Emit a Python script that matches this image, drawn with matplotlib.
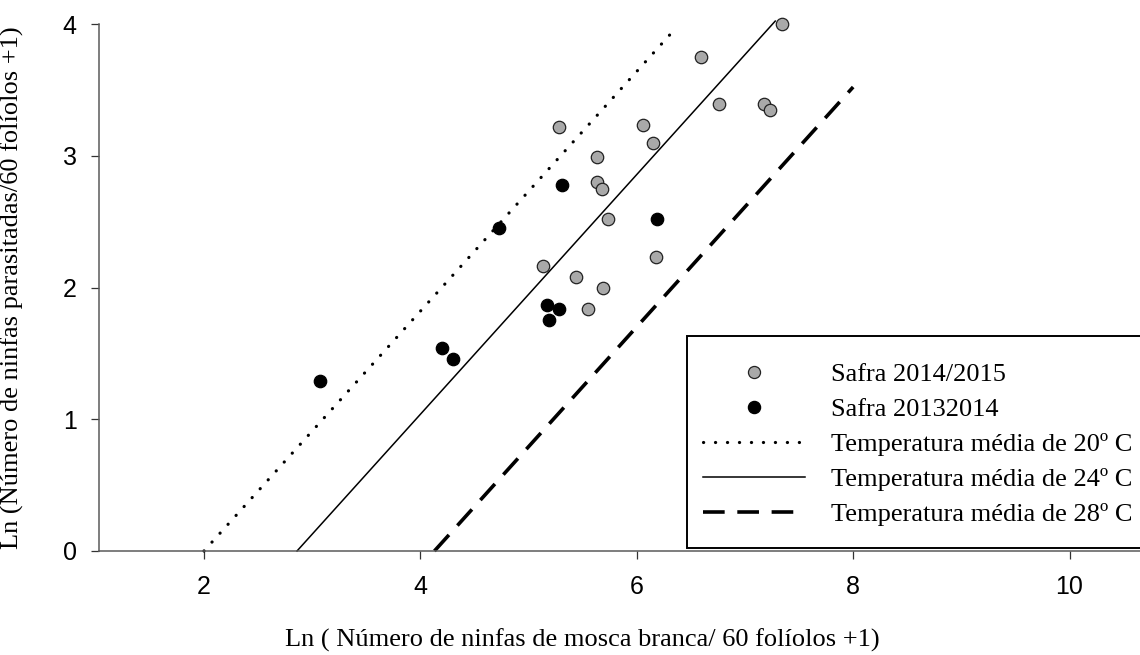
import matplotlib
matplotlib.use("Agg")
import matplotlib.pyplot as plt
import matplotlib.transforms as mtransforms
from matplotlib.lines import Line2D
from matplotlib.patches import Rectangle

# Ln-transformed counts per season
safra_1415_x = [7.34, 6.59, 6.76, 7.18, 7.23, 5.28, 6.06, 6.15, 5.63, 5.63,
                5.68, 5.73, 6.18, 5.13, 5.44, 5.69, 5.55]
safra_1415_y = [4.00, 3.75, 3.39, 3.39, 3.35, 3.22, 3.23, 3.10, 2.99, 2.80,
                2.75, 2.52, 2.23, 2.16, 2.08, 2.00, 1.84]
safra_1314_x = [3.07, 4.20, 4.30, 4.73, 5.31, 6.19, 5.17, 5.28, 5.19]
safra_1314_y = [1.29, 1.54, 1.46, 2.45, 2.78, 2.52, 1.87, 1.84, 1.75]

# Model lines for mean temperature: common slope, start (y = 0) and end x
temp_labels = ["Temperatura média de 20º C",
               "Temperatura média de 24º C",
               "Temperatura média de 28º C"]
slope = 0.91
line_x_start = [2.00, 2.86, 4.13]
line_x_end = [6.32, 7.28, 8.00]

x_ticks = [2, 4, 6, 8, 10]
y_ticks = [0, 1, 2, 3, 4]

serif = "Liberation Serif"
sans = "Liberation Sans"
W, H = 1140, 655

fig = plt.figure(figsize=(W / 100, H / 100), dpi=100)
xlim = (1.03, 11.0)
ax = fig.add_axes([99 / W, 104 / H, (xlim[1] - xlim[0]) * 108.2 / W, 527 / H])
ax.set_xlim(*xlim)
ax.set_ylim(0, 4)

line_styles = [
    dict(lw=2.3, linestyle=(0, (0.05, 3.7)), dash_capstyle="round"),
    dict(lw=1.1, linestyle="-"),
    dict(lw=2.6, linestyle=(0, (6.0, 3.5))),
]
handles = []
for x0, x1, st in zip(line_x_start, line_x_end, line_styles):
    xs = [x0, x1]
    ys = [slope * (x - x0) for x in xs]
    ax.plot(xs, ys, color="black", clip_on=False, zorder=2, **st)
    handles.append(Line2D([], [], color="black", **st))

ax.scatter(safra_1415_x, safra_1415_y, s=80, facecolor="#a9a9a9",
           edgecolor="#222222", linewidth=0.9, zorder=3, clip_on=False)
ax.scatter(safra_1314_x, safra_1314_y, s=80, facecolor="black",
           edgecolor="black", linewidth=0.9, zorder=3, clip_on=False)

for side in ("top", "right"):
    ax.spines[side].set_visible(False)
for side in ("left", "bottom"):
    ax.spines[side].set_color("#5a5a5a")
    ax.spines[side].set_linewidth(1.1)

ax.set_xticks(x_ticks)
ax.set_yticks(y_ticks)
ax.set_xticklabels([str(v) for v in x_ticks], fontfamily=sans, fontsize=18)
ax.set_yticklabels([str(v) for v in y_ticks], fontfamily=sans, fontsize=18)
ax.tick_params(axis="both", direction="out", length=6, width=0.9,
               color="#333333")
ax.tick_params(axis="x", pad=11)
ax.tick_params(axis="y", pad=10)

ax.set_ylabel("Ln (Número de ninfas parasitadas/60 folíolos +1)",
              fontfamily=serif, fontsize=19)
ax.yaxis.set_label_coords(-(99 - 24) / (ax.get_position().width * W), 0.5)

trans = mtransforms.blended_transform_factory(ax.transData, fig.transFigure)
ax.text(5.5, 8 / H, "Ln ( Número de ninfas de mosca branca/ 60 folíolos +1)",
        transform=trans, ha="center", va="baseline",
        fontfamily=serif, fontsize=19)

# Legend box (white panel with a black border, running off the right edge)
fig.patches.append(Rectangle((687 / W, 1 - 548 / H), 470 / W, 212 / H,
                             transform=fig.transFigure, facecolor="white",
                             edgecolor="black", linewidth=1.4, zorder=1))

leg_handles = [
    Line2D([], [], marker="o", linestyle="none", markersize=8.7,
           markerfacecolor="#a9a9a9", markeredgecolor="#222222",
           markeredgewidth=0.9),
    Line2D([], [], marker="o", linestyle="none", markersize=8.7,
           markerfacecolor="black", markeredgecolor="black"),
] + handles
leg_labels = ["Safra 2014/2015", "Safra 20132014"] + temp_labels
leg = fig.legend(leg_handles, leg_labels, loc="upper left",
                 bbox_to_anchor=(703 / W, 1 - 363 / H),
                 bbox_transform=fig.transFigure, borderaxespad=0,
                 prop={"family": serif, "size": 19},
                 handlelength=3.86, handletextpad=1.0, labelspacing=0.43,
                 borderpad=0, frameon=False)

fig.savefig("out.png", dpi=100)
